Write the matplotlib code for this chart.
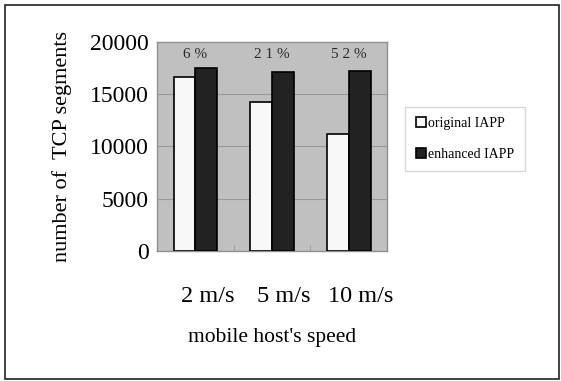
import numpy as np
import matplotlib
matplotlib.use("Agg")
import matplotlib.pyplot as plt
import matplotlib.transforms as mtrans
from matplotlib.patches import Rectangle

speeds = ["2 m/s", "5 m/s", "10 m/s"]
original = [16600, 14250, 11200]
enhanced = [17500, 17100, 17250]
gains = ["6 %", "2 1 %", "5 2 %"]

plt.rcParams['font.family'] = ['Liberation Serif', 'DejaVu Serif']

fig = plt.figure(figsize=(5.61, 3.81), dpi=100)
ax = fig.add_axes([0.280, 0.341, 0.410, 0.549])
ax.set_facecolor('#c0c0c0')

x = np.arange(len(speeds))
w = 0.285
ax.bar(x - w/2, original, w, color='#f8f8f8', edgecolor='black', linewidth=1.2,
       label='original IAPP', zorder=3)
ax.bar(x + w/2, enhanced, w, color='#222222', edgecolor='black', linewidth=1.2,
       label='enhanced IAPP', zorder=3)

for i, g in enumerate(gains):
    ax.text(x[i], 18750, g, ha='center', va='center', fontsize=11, color='#2a2a2a', zorder=4)

ax.set_xlim(-0.5, 2.5)
ax.set_ylim(0, 20000)
ax.set_yticks([0, 5000, 10000, 15000, 20000])
ax.yaxis.grid(True, color='#999999', linewidth=0.8, zorder=0)
ax.tick_params(axis='y', length=0, labelsize=17, pad=6)

ax.set_xticks(x)
ax.set_xticklabels(speeds)
ax.tick_params(axis='x', length=0, labelsize=17.5, pad=25)
shift = mtrans.ScaledTranslation(12/100, 0, fig.dpi_scale_trans)
for lab in ax.get_xticklabels():
    lab.set_transform(lab.get_transform() + shift)
ax.set_xticks([0.5, 1.5], minor=True)
ax.tick_params(axis='x', which='minor', direction='in', length=4, color='#999999')

for s in ax.spines.values():
    s.set_color('#909090')
    s.set_linewidth(1)

ax.set_ylabel("number of  TCP segments", fontsize=16, labelpad=13)
ax.set_xlabel("mobile host's speed", fontsize=15.5, labelpad=15)

leg = ax.legend(loc='upper left', bbox_to_anchor=(1.08, 0.69), fontsize=10,
                frameon=True, fancybox=False, edgecolor='#cccccc',
                handlelength=0.75, handleheight=0.75, handletextpad=0.15,
                labelspacing=1.25, borderpad=0.75, borderaxespad=0)
leg.get_frame().set_linewidth(1)

fig.patches.append(Rectangle((0.009, 0.004), 0.987, 0.984, transform=fig.transFigure,
                             fill=False, edgecolor='#222222', linewidth=1.2))

fig.savefig("out.png", dpi=100)
